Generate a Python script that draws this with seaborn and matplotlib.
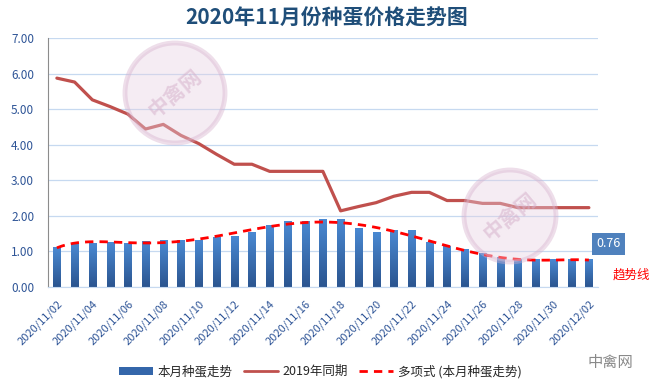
import numpy as np
import pandas as pd
import seaborn as sns
import matplotlib.pyplot as plt
from matplotlib.patches import Patch, Circle
from matplotlib.lines import Line2D
from matplotlib.colors import LinearSegmentedColormap

# 数据
dates = ['2020/11/%02d' % d for d in range(2, 31)] + ['2020/12/01', '2020/12/02']
price_2020 = [1.12, 1.23, 1.23, 1.25, 1.23, 1.29, 1.32, 1.32, 1.32, 1.38,
              1.43, 1.54, 1.74, 1.84, 1.84, 1.89, 1.89, 1.64, 1.53, 1.58,
              1.58, 1.24, 1.13, 1.04, 0.93, 0.84, 0.76, 0.76, 0.76, 0.76, 0.76]
price_2019 = [5.87, 5.76, 5.26, 5.07, 4.86, 4.44, 4.57, 4.26, 4.03, 3.73,
              3.45, 3.45, 3.25, 3.25, 3.25, 3.25, 2.14, 2.26, 2.37, 2.55,
              2.66, 2.66, 2.43, 2.43, 2.35, 2.35, 2.23, 2.23, 2.23, 2.23, 2.23]
y_ticks = [0, 1, 2, 3, 4, 5, 6, 7]
last_label = '0.76'

df = pd.DataFrame({'date': dates, 'price': price_2020, 'last_year': price_2019})
pos = np.arange(len(dates))

sns.set_style('white')
plt.rcParams['font.family'] = ['Noto Sans CJK SC', 'DejaVu Sans']

fig = plt.figure(figsize=(6.54, 3.91), dpi=100)
ax = fig.add_axes([0.0734, 0.266, 0.8406, 0.637])

# 柱状图（渐变填充）
sns.barplot(data=df, x='date', y='price', color='#3C74BE', width=0.4, ax=ax, zorder=2)
cmap = LinearSegmentedColormap.from_list('bar', ['#2B5590', '#4A89D2'])
grad = np.linspace(0, 1, 64).reshape(-1, 1)
for bar in ax.patches:
    x0, w, h = bar.get_x(), bar.get_width(), bar.get_height()
    ax.imshow(grad, extent=[x0, x0 + w, 0, h], origin='lower', cmap=cmap,
              aspect='auto', zorder=2)
    bar.set_visible(False)

# 2019年同期
sns.lineplot(x=pos, y=df['last_year'], color='#C0504D', linewidth=2.3, ax=ax, zorder=3)

# 多项式趋势线
sns.regplot(x=pos, y=df['price'], order=6, scatter=False, ci=None, ax=ax,
            line_kws=dict(color='#FF0000', lw=2, ls=(0, (3, 2.2)), zorder=4))

ax.set_xlim(-0.5, len(dates) - 0.5)
ax.set_ylim(0, 7)
ax.set_yticks(y_ticks)
ax.set_yticklabels(['%.2f' % v for v in y_ticks], color='#2F5597', fontsize=8.5)
ax.set_xticks(pos[::2])
ax.set_xticklabels(dates[::2], rotation=45, ha='right', rotation_mode='anchor',
                   color='#2F5597', fontsize=8)
ax.tick_params(axis='y', length=0, pad=10)
ax.tick_params(axis='x', length=0, pad=8)
ax.set_xlabel('')
ax.set_ylabel('')
ax.grid(axis='y', color='#C6D9F0', lw=0.9, zorder=0)
ax.set_axisbelow(True)
for s in ['top', 'right']:
    ax.spines[s].set_visible(False)
ax.spines['left'].set_color('#8C8C8C')
ax.spines['bottom'].set_color('#C6D9F0')

# 水印
for cx, cy, r in [(175, 93, 50), (510, 216, 46)]:
    fx, fy = cx / 654, 1 - cy / 391
    ring = Circle((fx * 6.54, fy * 3.91), r / 100, transform=fig.dpi_scale_trans,
                  facecolor='#E6D0E2', edgecolor='#D5AECB', lw=3.5, alpha=0.4, zorder=1)
    fig.patches.append(ring)
    fig.text(fx, fy, '中禽网', rotation=40, ha='center', va='center',
             fontsize=15, fontweight='bold', color='#D6B2CC', alpha=0.55)

# 标题
fig.text(0.5, 0.953, '2020年11月份种蛋价格走势图', ha='center', va='center',
         fontsize=15, fontweight='bold', color='#1F4E79')

# 末值标签和趋势线注释
fig.text(0.930, 0.376, last_label, ha='center', va='center', color='white', fontsize=9,
         bbox=dict(boxstyle='square,pad=0.35', fc='#4F81BD', ec='none'))
fig.text(0.966, 0.297, '趋势线', ha='center', va='center', color='#FF0000', fontsize=9)

# 图例
handles = [Patch(facecolor='#3466AA', edgecolor='none'),
           Line2D([], [], color='#C0504D', lw=2),
           Line2D([], [], color='#FF0000', lw=2, ls=(0, (3, 2.2)))]
labels = ['本月种蛋走势', '2019年同期', '多项式 (本月种蛋走势)']
fig.legend(handles, labels, loc='center', bbox_to_anchor=(0.49, 0.05), ncol=3,
           frameon=False, fontsize=9, handlelength=2.7, handleheight=0.6,
           handletextpad=0.4, columnspacing=0.9)

fig.text(0.933, 0.074, '中禽网', ha='center', va='center', color='#8A8A8A', fontsize=11)

fig.savefig('out.png', dpi=100)
